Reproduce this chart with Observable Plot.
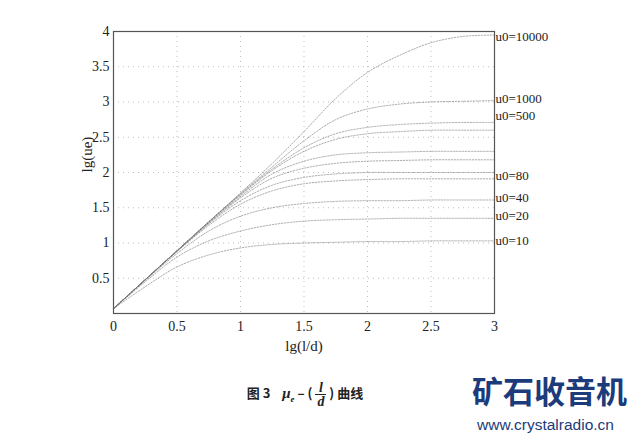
<!DOCTYPE html>
<html>
<head>
<meta charset="utf-8">
<script src="https://cdn.jsdelivr.net/npm/d3@7"></script>
<script src="https://cdn.jsdelivr.net/npm/@observablehq/plot@0.6"></script>
<style>
  body { margin: 0; background: #fff; }
  #wrap { position: relative; width: 643px; height: 443px; overflow: hidden; background: #fff; }
  #chart { position: absolute; left: 0; top: 0; }
  #caption { position: absolute; left: 0; width: 610px; top: 381px; text-align: center;
    font-family: "Noto Sans CJK SC", "Liberation Serif", serif; font-weight: bold; font-size: 13px; color: #222; }
  .frac { display: inline-block; vertical-align: middle; text-align: center; line-height: 13px; font-style: italic; font-family: "Liberation Serif", serif; font-size: 14px; }
  .mu { font-family: "Liberation Serif", serif; font-style: italic; font-size: 15px; }
  #wm1 { position: absolute; left: 472px; top: 372px; white-space: nowrap; font-family: "Noto Sans CJK SC", sans-serif; font-weight: bold; font-size: 31px; line-height: 36px; color: #1c3b7a; }
  #wm2 { position: absolute; left: 477px; top: 416px; white-space: nowrap; font-family: "Liberation Sans", sans-serif; font-size: 15.5px; line-height: 18px; color: #1c3b7a; }
</style>
</head>
<body>
<div id="wrap">
  <div id="chart"></div>
  <div id="caption">图 3&nbsp;&nbsp;&nbsp; <span class="mu">μ<sub style="font-size:9px">e</sub></span> – ( <span class="frac">l<br><span style="border-top:1px solid #222;display:inline-block;padding:0 2px">d</span></span> ) 曲线</div>
  <div id="wm1">矿石收音机</div>
  <div id="wm2">www.crystalradio.cn</div>
</div>
<script>
const xs = [0, 0.25, 0.5, 0.75, 1, 1.25, 1.5, 1.75, 2, 2.25, 2.5, 2.75, 3];
const u10    = [0.07,0.38,0.66,0.83,0.93,0.98,1.00,1.01,1.02,1.02,1.03,1.03,1.03];
const u20    = [0.07,0.45,0.80,1.03,1.17,1.26,1.31,1.33,1.34,1.35,1.35,1.35,1.35];
const u40    = [0.07,0.47,0.85,1.17,1.38,1.50,1.56,1.59,1.60,1.60,1.61,1.61,1.61];
const u80    = [0.07,0.48,0.88,1.25,1.55,1.74,1.84,1.88,1.90,1.91,1.91,1.91,1.91];
const u100   = [0.07,0.48,0.88,1.27,1.60,1.82,1.93,1.98,2.00,2.00,2.00,2.00,2.00];
const u150   = [0.07,0.48,0.89,1.28,1.64,1.92,2.06,2.13,2.16,2.17,2.18,2.18,2.18];
const u200   = [0.07,0.48,0.89,1.29,1.66,1.98,2.16,2.25,2.28,2.29,2.30,2.30,2.30];
const u400   = [0.07,0.48,0.89,1.30,1.68,2.03,2.30,2.47,2.55,2.58,2.60,2.60,2.60];
const u500   = [0.07,0.48,0.89,1.30,1.69,2.05,2.35,2.55,2.64,2.68,2.70,2.71,2.71];
const u1000  = [0.07,0.48,0.89,1.30,1.70,2.08,2.45,2.75,2.90,2.97,3.00,3.01,3.02];
const u10000 = [0.07,0.48,0.89,1.30,1.71,2.13,2.58,3.05,3.42,3.66,3.84,3.93,3.95];

const seriesNames = ["10","20","40","80","100","150","200","400","500","1000","10000"];
const seriesVals = [u10,u20,u40,u80,u100,u150,u200,u400,u500,u1000,u10000];

const labelTexts = ["u0=10000","u0=1000","u0=500","u0=80","u0=40","u0=20","u0=10"];
const labelY = [3.93, 3.05, 2.8, 1.95, 1.64, 1.39, 1.03];

const xTicks = [0, 0.5, 1, 1.5, 2, 2.5, 3];
const yTicks = [0.5, 1, 1.5, 2, 2.5, 3, 3.5, 4];

const rows = [];
seriesNames.forEach((n, i) => xs.forEach((x, j) => rows.push({u0: n, x, y: seriesVals[i][j]})));
const labels = labelTexts.map((t, i) => ({t, y: labelY[i]}));

const chart = Plot.plot({
  width: 643,
  height: 370,
  marginLeft: 113,
  marginRight: 149,
  marginTop: 31,
  marginBottom: 57,
  style: {fontFamily: "'Liberation Serif', serif", fontSize: "14px", color: "#222", background: "#fff"},
  x: {domain: [0, 3], ticks: xTicks, tickFormat: d => String(d), tickSize: 0, tickPadding: 8, label: null},
  y: {domain: [0, 4], ticks: yTicks, tickFormat: d => String(d), tickSize: 0, tickPadding: 4, label: null},
  marks: [
    Plot.gridX(xTicks.slice(1, -1), {stroke: "#888", strokeOpacity: 0.55, strokeDasharray: "1,4"}),
    Plot.gridY(yTicks.slice(0, -1), {stroke: "#888", strokeOpacity: 0.55, strokeDasharray: "1,4"}),
    Plot.line(rows, {x: "x", y: "y", z: "u0", curve: "catmull-rom", stroke: "#777", strokeWidth: 1, strokeOpacity: 0.6, strokeDasharray: "1.5,1.5"}),
    Plot.frame({stroke: "#555", strokeWidth: 1.2}),
    Plot.text(labels, {x: () => 3, y: "y", text: "t", textAnchor: "start", dx: 1, fontSize: 13, fill: "#222"}),
    Plot.axisX({ticks: xTicks, tickFormat: d => String(d), tickSize: 0, tickPadding: 8, label: null}),
    Plot.axisY({ticks: yTicks, tickFormat: d => String(d), tickSize: 0, tickPadding: 4, label: null}),
    Plot.text(["lg(l/d)"], {frameAnchor: "bottom", dy: 37, fontSize: 15, fill: "#222"}),
    Plot.text(["lg(ue)"], {frameAnchor: "left", dx: -26, rotate: -90, fontSize: 15, fill: "#222"})
  ]
});
document.getElementById("chart").appendChild(chart);
</script>
</body>
</html>
